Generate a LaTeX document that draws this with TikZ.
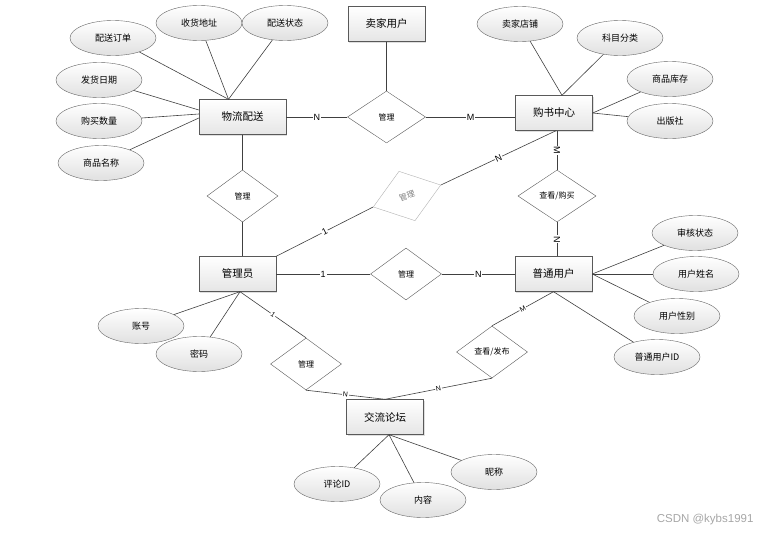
\documentclass[tikz,border=0pt]{standalone}
\usepackage{fontspec}
\setmainfont{Noto Sans CJK SC}
\newfontfamily\latinfont{Liberation Sans}
\usetikzlibrary{shapes.geometric, shadows}

\begin{document}
\begin{tikzpicture}[x=1pt, y=-1pt,
  ent/.style={draw=black!65, top color=white, bottom color=black!10, minimum width=77pt, minimum height=35pt, inner sep=2pt, font=\fontsize{10.5}{12}\selectfont, drop shadow={opacity=0.25, shadow xshift=1.2pt, shadow yshift=-1.2pt}},
  attr/.style={ellipse, draw=black!60, top color=white, bottom color=black!12, minimum width=86pt, minimum height=35pt, inner sep=1pt, font=\fontsize{9}{11}\selectfont},
  rel/.style={diamond, draw=black!65, fill=white, minimum width=71pt, minimum height=52pt, inner sep=0pt, font=\fontsize{8}{10}\selectfont},
  conn/.style={draw=black!75, line width=0.6pt},
  card/.style={fill=white, inner sep=0.8pt, font=\latinfont\fontsize{9}{10}\selectfont},
  smallcard/.style={card, font=\latinfont\fontsize{7}{8}\selectfont}
]
  \useasboundingbox (0,0) rectangle (772,533);

  % entities
  \node[ent, minimum width=87pt] (wl) at (242.5,117) {物流配送};
  \node[ent] (mj) at (386.5,24) {卖家用户};
  \node[ent] (gs) at (554,113) {购书中心};
  \node[ent] (gly) at (237.5,274) {管理员};
  \node[ent] (pt) at (553.5,274) {普通用户};
  \node[ent] (lt) at (385,417) {交流论坛};

  % relations
  \node[rel, minimum width=78pt] (glwl) at (386.5,117) {管理};
  \node[rel] (glps) at (242.5,196) {管理};
  \node[rel, draw=black!30, text=black!50, rotate=18] (glgs) at (407,196) {管理};
  \node[rel, minimum width=78pt] (ckgm) at (557,196) {查看/购买};
  \node[rel] (glyh) at (406,274) {管理};
  \node[rel] (glbk) at (306,364) {管理};
  \node[rel] (ckfb) at (492,352) {查看/发布};

  % attributes
  \node[attr] (psdd) at (113,38) {配送订单};
  \node[attr] (shdz) at (199,23) {收货地址};
  \node[attr] (pszt) at (285,23) {配送状态};
  \node[attr] (fhrq) at (99,80) {发货日期};
  \node[attr] (gmsl) at (99,121) {购买数量};
  \node[attr] (spmc) at (101,163) {商品名称};
  \node[attr] (mjdp) at (520,24) {卖家店铺};
  \node[attr] (kmfl) at (620,38) {科目分类};
  \node[attr] (spkc) at (670,79) {商品库存};
  \node[attr] (cbs) at (670,121) {出版社};
  \node[attr] (shzt) at (695,233) {审核状态};
  \node[attr] (yhxm) at (696,274) {用户姓名};
  \node[attr] (yhxb) at (677,316) {用户性别};
  \node[attr] (yhid) at (657,357) {普通用户ID};
  \node[attr] (zh) at (141,326) {账号};
  \node[attr] (mm) at (199,354) {密码};
  \node[attr] (plid) at (337,484) {评论ID};
  \node[attr] (nr) at (423,500) {内容};
  \node[attr] (nc) at (494,472) {昵称};

  % attribute lines
  \draw[conn] (psdd) -- ([xshift=-14pt]wl.north);
  \draw[conn] (shdz) -- ([xshift=-14pt]wl.north);
  \draw[conn] (pszt) -- ([xshift=-14pt]wl.north);
  \draw[conn] (fhrq) -- ([yshift=7pt]wl.west);
  \draw[conn] (gmsl) -- ([yshift=3pt]wl.west);
  \draw[conn] (spmc) -- ([yshift=-1pt]wl.west);
  \draw[conn] (mjdp) -- ([xshift=8pt]gs.north);
  \draw[conn] (kmfl) -- ([xshift=8pt]gs.north);
  \draw[conn] (spkc) -- (gs.east);
  \draw[conn] (cbs) -- (gs.east);
  \draw[conn] (shzt) -- (pt.east);
  \draw[conn] (yhxm) -- (pt.east);
  \draw[conn] (yhxb) -- (pt.east);
  \draw[conn] (yhid) -- (pt.south);
  \draw[conn] (zh) -- ([xshift=2.5pt]gly.south);
  \draw[conn] (mm) -- ([xshift=2.5pt]gly.south);
  \draw[conn] (plid) -- ([xshift=4pt]lt.south);
  \draw[conn] (nr) -- ([xshift=4pt]lt.south);
  \draw[conn] (nc) -- ([xshift=4pt]lt.south);

  % relation lines
  \draw[conn] (wl.east) -- node[card] {N} (glwl.west);
  \draw[conn] (glwl.east) -- node[card] {M} (glwl.east -| gs.west);
  \draw[conn] (mj.south) -- (glwl.north);
  \draw[conn] (wl.south) -- (glps.north);
  \draw[conn] (glps.south) -- (glps.south |- gly.north);
  \draw[conn] (gly.north east) -- node[card, sloped] {1} (glgs.west);
  \draw[conn] (glgs.east) -- node[card, sloped] {N} ([xshift=2pt]gs.south);
  \draw[conn] (ckgm.north |- gs.south) -- node[card, sloped] {M} (ckgm.north);
  \draw[conn] (ckgm.south) -- node[card, sloped] {N} (ckgm.south |- pt.north);
  \draw[conn] (gly.east) -- node[card] {1} (glyh.west);
  \draw[conn] (glyh.east) -- node[card] {N} (pt.west);
  \draw[conn] ([xshift=2.5pt]gly.south) -- node[smallcard, sloped] {1} (glbk.north);
  \draw[conn] (glbk.south) -- node[smallcard, sloped] {N} (lt.north);
  \draw[conn] (lt.north) -- node[smallcard, sloped] {N} (ckfb.south);
  \draw[conn] (ckfb.north) -- node[smallcard, sloped] {M} (pt.south);

  \node[anchor=east, text=black!35, font=\latinfont\fontsize{11.5}{12}\selectfont] (wm) at (757,520) {CSDN @kybs1991};
\end{tikzpicture}
\end{document}
